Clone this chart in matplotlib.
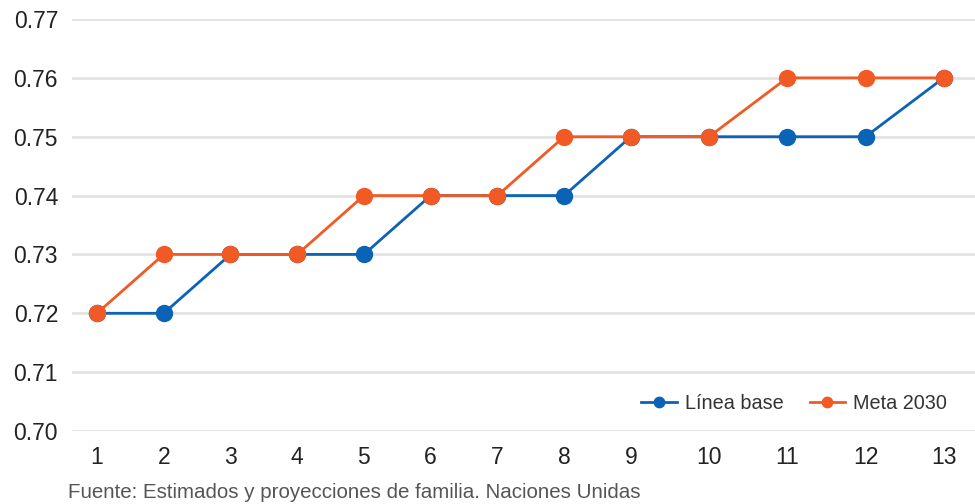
import matplotlib.pyplot as plt
import numpy as np

plt.rcParams['font.family'] = ['Liberation Sans', 'DejaVu Sans']

periodos = list(range(1, 14))
linea_base = [0.72, 0.72, 0.73, 0.73, 0.73, 0.74, 0.74, 0.74, 0.75, 0.75, 0.75, 0.75, 0.76]
meta_2030 = [0.72, 0.73, 0.73, 0.73, 0.74, 0.74, 0.74, 0.75, 0.75, 0.75, 0.76, 0.76, 0.76]
y_ticks = [0.70, 0.71, 0.72, 0.73, 0.74, 0.75, 0.76, 0.77]

azul = '#0b63b5'
naranja = '#f15a24'

# the periods after 9 are spaced a bit wider on the axis
k = 1.172


def fwd(x):
    x = np.asarray(x, dtype=float)
    return np.where(x <= 9, x, 9 + (x - 9) * k)


def inv(u):
    u = np.asarray(u, dtype=float)
    return np.where(u <= 9, u, 9 + (u - 9) / k)


fig = plt.figure(figsize=(9.75, 5.04), dpi=100)
ax = fig.add_axes([72 / 975, (504 - 431) / 504, 1 - 72 / 975, (431 - 19) / 504])
ax.set_xscale('function', functions=(fwd, inv))

ax.plot(periodos, linea_base, color=azul, lw=2, marker='o', ms=11.5, label='Línea base', zorder=3)
ax.plot(periodos, meta_2030, color=naranja, lw=2, marker='o', ms=11.5, label='Meta 2030', zorder=4)

ax.set_ylim(0.70, 0.77)
ax.set_xlim(0.6255, 13.40)
ax.set_yticks(y_ticks)
ax.set_yticklabels([f'{v:.2f}' for v in y_ticks])
ax.set_xticks(periodos)
ax.set_xticklabels([str(p) for p in periodos])
ax.xaxis.set_minor_locator(plt.NullLocator())
ax.grid(axis='y', color='#e3e3e3', lw=2)
ax.set_axisbelow(True)
for s in ax.spines.values():
    s.set_visible(False)
ax.tick_params(length=0, labelsize=16.5, labelcolor='#222222')
ax.tick_params(axis='y', pad=10)
ax.tick_params(axis='x', pad=11)

ax.legend(loc='lower right', bbox_to_anchor=(0.989, 0.0), ncol=2, frameon=False,
          fontsize=14.3, labelcolor='#333333', handlelength=1.8, columnspacing=1.3,
          handletextpad=0.4, markerscale=0.65)

fig.text(68 / 975, 1 - 492 / 504, 'Fuente: Estimados y proyecciones de familia. Naciones Unidas',
         fontsize=14.8, color='#555555', va='center')

fig.savefig('out.png', dpi=100)
